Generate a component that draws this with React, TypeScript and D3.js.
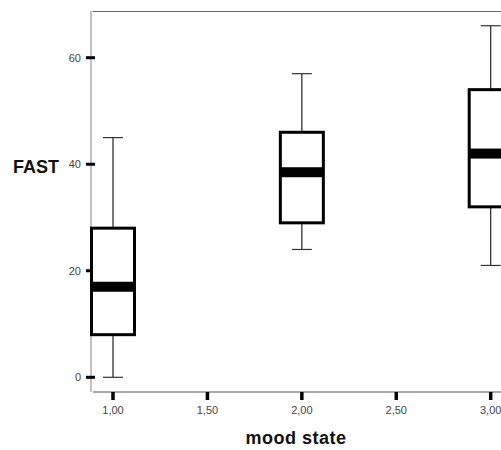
import React from "react";
import * as d3 from "d3";

const moodStates = [1, 2, 3];
const whiskerLow = [0, 24, 21];
const q1 = [8, 29, 32];
const median = [17, 38.5, 42];
const q3 = [28, 46, 54];
const whiskerHigh = [45, 57, 66];
const yTicks = [0, 20, 40, 60];
const xTicks = [1, 1.5, 2, 2.5, 3];
const xTickLabels = ["1,00", "1,50", "2,00", "2,50", "3,00"];
const yTitle = "FAST";
const xTitle = "mood state";

export default function App() {
  const W = 501;
  const H = 450;
  const x = d3.scaleLinear().domain([1, 3]).range([113, 490.7]);
  const y = d3.scaleLinear().domain([0, 60]).range([377.3, 57.7]);
  const plotTop = 11;
  const plotBottom = 392;
  const yAxisX = 91;
  const xAxisStart = 93;
  const boxW = 43;
  const capW = 20;
  const font = "Arial, 'Liberation Sans', sans-serif";

  return (
    <svg
      width={W}
      height={H}
      style={{ position: "absolute", left: 0, top: 0, background: "#fff" }}
    >
      <rect x={0} y={0} width={W} height={H} fill="#fff" />
      {/* frame lines */}
      <line x1={yAxisX} x2={yAxisX} y1={plotTop} y2={plotBottom} stroke="#999" strokeWidth={1.2} />
      <line x1={xAxisStart} x2={W} y1={plotTop + 0.5} y2={plotTop + 0.5} stroke="#666" strokeWidth={1.2} />
      <line x1={xAxisStart} x2={W} y1={plotBottom} y2={plotBottom} stroke="#555" strokeWidth={1.2} />

      {/* y ticks */}
      {yTicks.map((t) => (
        <g key={"y" + t}>
          <line x1={86} x2={95} y1={y(t)} y2={y(t)} stroke="#000" strokeWidth={3} />
          <text x={81} y={y(t) + 4} textAnchor="end" fontSize={11} fill="#444" fontFamily={font}>
            {t}
          </text>
        </g>
      ))}

      {/* x ticks */}
      {xTicks.map((t, i) => (
        <g key={"x" + t}>
          <line x1={x(t)} x2={x(t)} y1={plotBottom} y2={plotBottom + 8} stroke="#000" strokeWidth={3.5} />
          <text x={x(t)} y={414} textAnchor="middle" fontSize={11} fill="#444" fontFamily={font}>
            {xTickLabels[i]}
          </text>
        </g>
      ))}

      {/* boxes */}
      {moodStates.map((m, i) => {
        const cx = x(m);
        return (
          <g key={"b" + m}>
            <line x1={cx} x2={cx} y1={y(whiskerHigh[i])} y2={y(q3[i])} stroke="#222" strokeWidth={1.2} />
            <line x1={cx} x2={cx} y1={y(q1[i])} y2={y(whiskerLow[i])} stroke="#222" strokeWidth={1.2} />
            <line x1={cx - capW / 2} x2={cx + capW / 2} y1={y(whiskerHigh[i])} y2={y(whiskerHigh[i])} stroke="#333" strokeWidth={1.2} />
            <line x1={cx - capW / 2} x2={cx + capW / 2} y1={y(whiskerLow[i])} y2={y(whiskerLow[i])} stroke="#333" strokeWidth={1.2} />
            <rect
              x={cx - boxW / 2}
              y={y(q3[i])}
              width={boxW}
              height={y(q1[i]) - y(q3[i])}
              fill="#fff"
              stroke="#000"
              strokeWidth={3}
            />
            <rect x={cx - boxW / 2} y={y(median[i]) - 5} width={boxW} height={10} fill="#000" />
          </g>
        );
      })}

      {/* titles */}
      <text x={13} y={172.5} fontSize={18} fontWeight="bold" fill="#111" fontFamily={font}>
        {yTitle}
      </text>
      <text x={296} y={444} textAnchor="middle" fontSize={18} fontWeight="bold" fill="#111" fontFamily={font} letterSpacing={0.5}>
        {xTitle}
      </text>
    </svg>
  );
}
